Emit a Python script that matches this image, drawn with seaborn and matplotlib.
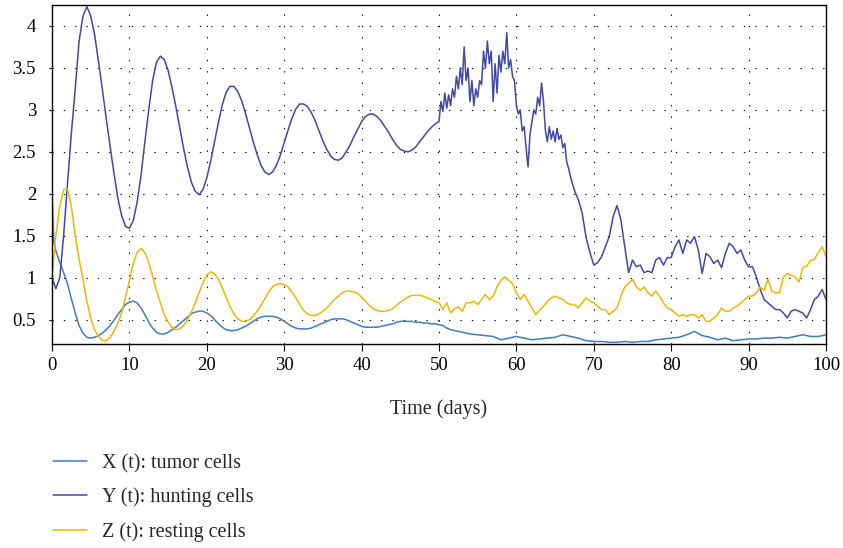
import numpy as np
import pandas as pd
import matplotlib
matplotlib.use("Agg")
import matplotlib.pyplot as plt
import seaborn as sns

# ---------------- data ----------------
labels = ["X (t): tumor cells", "Y (t): hunting cells", "Z (t): resting cells"]
colors = ["#3A7DC9", "#4048A8", "#F2B600"]

# deterministic part: t = 0, 0.5, ..., 50
y_det = [1.00, 0.87, 1.00, 1.50, 2.12, 2.72, 3.25, 3.82, 4.12, 4.23,
         4.12, 3.90, 3.58, 3.25, 2.90, 2.57, 2.25, 1.95, 1.74, 1.61,
         1.59, 1.68, 1.90, 2.22, 2.62, 3.00, 3.35, 3.57, 3.64, 3.60,
         3.47, 3.27, 3.04, 2.79, 2.54, 2.32, 2.14, 2.03, 1.99, 2.05,
         2.19, 2.39, 2.62, 2.85, 3.06, 3.21, 3.28, 3.28, 3.22, 3.11,
         2.96, 2.79, 2.62, 2.47, 2.34, 2.26, 2.23, 2.26, 2.34, 2.46,
         2.61, 2.76, 2.90, 3.01, 3.07, 3.07, 3.04, 2.97, 2.87, 2.75,
         2.63, 2.53, 2.45, 2.41, 2.40, 2.43, 2.50, 2.58, 2.68, 2.77,
         2.86, 2.92, 2.95, 2.95, 2.92, 2.87, 2.80, 2.73, 2.65, 2.58,
         2.53, 2.51, 2.50, 2.52, 2.56, 2.62, 2.68, 2.74, 2.79, 2.83,
         2.86]
z_det = [1.00, 1.50, 1.85, 2.05, 2.06, 1.85, 1.50, 1.22, 0.98, 0.72,
         0.52, 0.38, 0.30, 0.25, 0.25, 0.29, 0.36, 0.46, 0.58, 0.77,
         0.96, 1.17, 1.30, 1.35, 1.30, 1.18, 1.02, 0.85, 0.70, 0.56,
         0.47, 0.41, 0.38, 0.39, 0.43, 0.50, 0.59, 0.70, 0.82, 0.94,
         1.03, 1.07, 1.05, 0.98, 0.88, 0.77, 0.66, 0.57, 0.51, 0.48,
         0.48, 0.50, 0.54, 0.60, 0.67, 0.75, 0.83, 0.89, 0.92, 0.93,
         0.92, 0.89, 0.83, 0.76, 0.68, 0.61, 0.57, 0.55, 0.55, 0.57,
         0.60, 0.64, 0.69, 0.74, 0.78, 0.82, 0.84, 0.84, 0.83, 0.81,
         0.77, 0.72, 0.67, 0.63, 0.61, 0.60, 0.60, 0.61, 0.63, 0.67,
         0.71, 0.74, 0.77, 0.79, 0.79, 0.79, 0.78, 0.76, 0.74, 0.72,
         0.70]
x_det = [2.00, 1.32, 1.18, 1.06, 0.93, 0.75, 0.58, 0.43, 0.34, 0.29,
         0.28, 0.29, 0.31, 0.34, 0.38, 0.43, 0.49, 0.56, 0.62, 0.68,
         0.71, 0.72, 0.70, 0.64, 0.56, 0.47, 0.40, 0.35, 0.33, 0.33,
         0.35, 0.38, 0.41, 0.45, 0.49, 0.53, 0.57, 0.59, 0.60, 0.60,
         0.58, 0.55, 0.50, 0.45, 0.41, 0.38, 0.37, 0.37, 0.38, 0.40,
         0.42, 0.45, 0.48, 0.51, 0.53, 0.54, 0.54, 0.54, 0.53, 0.51,
         0.48, 0.45, 0.42, 0.40, 0.39, 0.39, 0.39, 0.40, 0.42, 0.44,
         0.46, 0.48, 0.50, 0.51, 0.51, 0.51, 0.50, 0.48, 0.46, 0.44,
         0.42, 0.41, 0.41, 0.41, 0.41, 0.42, 0.43, 0.44, 0.45, 0.47,
         0.48, 0.48, 0.48, 0.48, 0.47, 0.47, 0.46, 0.46, 0.45, 0.45,
         0.44]
x_early_t = [0.25]
x_early = [1.42]

# stochastic part
y_noise_fine = [3.10, 2.98, 3.20, 3.02, 3.18, 3.05, 3.25, 3.15, 3.40, 3.25,   # 50.25 .. 52.5
                3.50, 3.30, 3.75, 3.35, 3.50, 3.10, 3.35, 3.05, 3.25, 3.15,   # 52.75 .. 55.0
                3.35, 3.30, 3.70, 3.50, 3.82, 3.55, 3.70, 3.10, 3.55, 3.20,   # 55.25 .. 57.5
                3.65, 3.45, 3.70, 3.55, 3.92, 3.50, 3.60, 3.40, 3.35, 3.05,   # 57.75 .. 60.0
                2.95, 3.00, 2.75, 2.80, 2.55, 2.32, 2.70, 2.85, 3.00, 2.95,   # 60.25 .. 62.5
                3.15, 3.05, 3.32, 3.10, 2.75, 2.62, 2.80, 2.65, 2.75, 2.62,   # 62.75 .. 65.0
                2.78, 2.65, 2.70, 2.55, 2.60, 2.38, 2.30, 2.20]               # 65.25 .. 67.0
y_noise_coarse = [2.04, 1.93, 1.77, 1.48, 1.30, 1.15, 1.18, 1.25, 1.37, 1.49,  # 67.5 .. 72.0
                  1.73, 1.86, 1.69, 1.37, 1.06, 1.21, 1.13, 1.15, 1.06, 1.08,  # 72.5 .. 77.0
                  1.06, 1.21, 1.24, 1.15, 1.24, 1.24, 1.37, 1.45, 1.29, 1.45,  # 77.5 .. 82.0
                  1.41, 1.49, 1.33, 1.05, 1.29, 1.25, 1.17, 1.21, 1.12, 1.29,  # 82.5 .. 87.0
                  1.41, 1.37, 1.29, 1.33, 1.21, 1.13, 1.13, 1.01, 0.86, 0.74,  # 87.5 .. 92.0
                  0.70, 0.66, 0.62, 0.62, 0.58, 0.52, 0.60, 0.62, 0.60, 0.58,  # 92.5 .. 97.0
                  0.52, 0.62, 0.74, 0.78, 0.86, 0.74]                          # 97.5 .. 100
z_noise = [0.62, 0.70, 0.58, 0.63, 0.65, 0.60, 0.70, 0.70, 0.72, 0.68,   # 50.5 .. 55.0
           0.74, 0.80, 0.74, 0.78, 0.89, 0.97, 1.01, 0.97, 0.93, 0.82,   # 55.5 .. 60.0
           0.74, 0.80, 0.72, 0.64, 0.56, 0.61, 0.66, 0.72, 0.76, 0.78,   # 60.5 .. 65.0
           0.76, 0.74, 0.70, 0.68, 0.68, 0.64, 0.70, 0.76, 0.72, 0.70,   # 65.5 .. 70.0
           0.66, 0.62, 0.62, 0.56, 0.60, 0.64, 0.78, 0.89, 0.93, 0.98,   # 70.5 .. 75.0
           0.89, 0.85, 0.89, 0.82, 0.78, 0.84, 0.78, 0.70, 0.64, 0.62,   # 75.5 .. 80.0
           0.58, 0.54, 0.56, 0.54, 0.56, 0.56, 0.52, 0.56, 0.48, 0.48,   # 80.5 .. 85.0
           0.52, 0.56, 0.64, 0.60, 0.60, 0.64, 0.66, 0.70, 0.74, 0.78,   # 85.5 .. 90.0
           0.78, 0.82, 0.89, 0.85, 0.98, 0.84, 0.82, 0.82, 1.01, 1.05,   # 90.5 .. 95.0
           1.03, 1.01, 0.95, 1.12, 1.14, 1.20, 1.22, 1.30, 1.37, 1.25]   # 95.5 .. 100
x_noise_head_t = [50.5, 51.0, 51.5]
x_noise_head = [0.43, 0.40, 0.38]
x_noise = [0.37, 0.35, 0.33, 0.32, 0.31, 0.30, 0.26, 0.28, 0.30, 0.28,   # 52 .. 61
           0.26, 0.27, 0.28, 0.29, 0.32, 0.30, 0.28, 0.25, 0.24, 0.24,   # 62 .. 71
           0.23, 0.23, 0.24, 0.23, 0.24, 0.24, 0.26, 0.27, 0.28, 0.29,   # 72 .. 81
           0.32, 0.36, 0.31, 0.29, 0.26, 0.28, 0.25, 0.26, 0.27, 0.27,   # 82 .. 91
           0.28, 0.28, 0.29, 0.28, 0.30, 0.32, 0.30, 0.30, 0.32]         # 92 .. 100

# ---------------- assemble ----------------
t_det = np.arange(len(y_det)) * 0.5
t_yf = 50.25 + np.arange(len(y_noise_fine)) * 0.25
t_yc = 67.5 + np.arange(len(y_noise_coarse)) * 0.5
t_zn = 50.5 + np.arange(len(z_noise)) * 0.5
t_xn = 52.0 + np.arange(len(x_noise)) * 1.0

def frame(t, v, name):
    return pd.DataFrame({"t": np.asarray(t, float), "v": np.asarray(v, float), "series": name})

df = pd.concat([
    frame(np.concatenate([t_det, x_early_t, x_noise_head_t, t_xn]),
          np.concatenate([x_det, x_early, x_noise_head, x_noise]), labels[0]),
    frame(np.concatenate([t_det, t_yf, t_yc]),
          np.concatenate([y_det, y_noise_fine, y_noise_coarse]), labels[1]),
    frame(np.concatenate([t_det, t_zn]),
          np.concatenate([z_det, z_noise]), labels[2]),
], ignore_index=True).sort_values(["series", "t"])

# ---------------- plot ----------------
sns.set_theme(style="white")
plt.rcParams["font.family"] = ["Liberation Serif", "DejaVu Serif"]

W, H = 843, 548
fig = plt.figure(figsize=(W / 100, H / 100), dpi=100)
ax = fig.add_axes([52 / W, 1 - 344 / H, (826 - 52) / W, (344 - 5) / H])

sns.lineplot(data=df, x="t", y="v", hue="series", hue_order=labels,
             palette=dict(zip(labels, colors)), estimator=None,
             linewidth=1.1, ax=ax)

ax.set_xlim(0, 100)
ax.set_ylim(0.21, 4.25)
ax.set_xticks(np.arange(0, 101, 10))
ax.set_yticks(np.arange(0.5, 4.01, 0.5))
ax.set_yticklabels(["0.5", "1", "1.5", "2", "2.5", "3", "3.5", "4"])
ax.grid(True, color="black", linestyle=(0, (1.2, 9)), linewidth=0.8)
for s in ax.spines.values():
    s.set_color("black")
    s.set_linewidth(1.0)
    s.set_visible(True)
ax.tick_params(axis="x", direction="out", length=5, width=0.8, pad=4,
               labelsize=13.5, colors="black", bottom=True)
ax.tick_params(axis="y", direction="out", length=2.5, width=0.8, pad=9,
               labelsize=13.5, colors="black", left=True)
ax.set_xlabel("Time (days)", fontsize=14.5, labelpad=18.5)
ax.set_ylabel("")

handles, labs = ax.get_legend_handles_labels()
ax.get_legend().remove()
fig.legend(handles, labs, loc="upper left", bbox_to_anchor=(52.5 / W, 1 - 454 / H),
           frameon=False, fontsize=14.5, handlelength=1.72, handletextpad=0.76,
           labelspacing=0.72, borderaxespad=0, borderpad=0)

fig.savefig("out.png", dpi=100)
